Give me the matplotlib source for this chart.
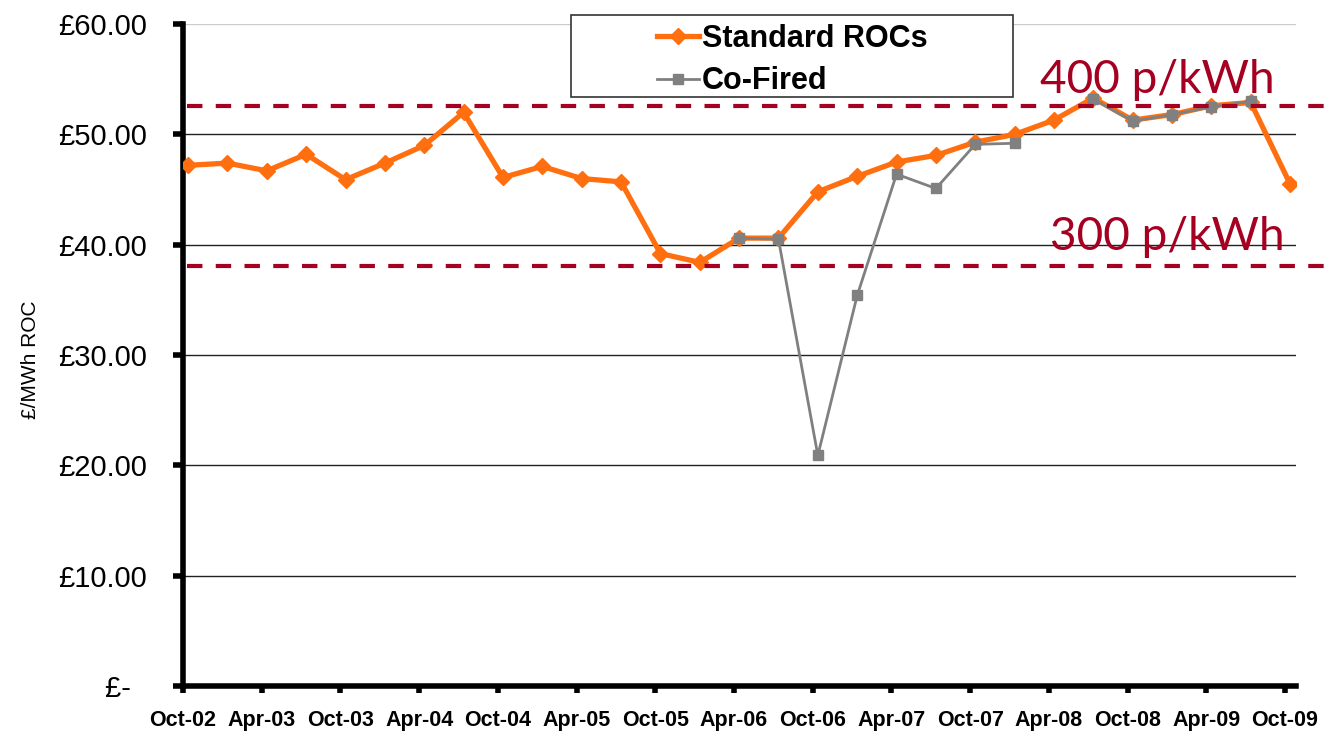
import matplotlib.pyplot as plt
from matplotlib.patches import Rectangle
import numpy as np

# kwartalen Oct-02 .. Oct-09
tick_labels = ['Oct-02', 'Apr-03', 'Oct-03', 'Apr-04', 'Oct-04', 'Apr-05', 'Oct-05', 'Apr-06',
               'Oct-06', 'Apr-07', 'Oct-07', 'Apr-08', 'Oct-08', 'Apr-09', 'Oct-09']

standard = [47.2, 47.4, 46.7, 48.2, 45.9, 47.4, 49.0, 52.0, 46.1, 47.1, 46.0, 45.7, 39.2, 38.4,
            40.6, 40.6, 44.8, 46.2, 47.5, 48.1, 49.3, 50.0, 51.3, 53.3, 51.3, 51.8, 52.6, 52.9, 45.5]

cofired = [np.nan] * 14 + [40.6, 40.5, 20.9, 35.4, 46.4, 45.1, 49.1, 49.2, np.nan,
                           53.2, 51.2, 51.8, 52.5, 53.0, np.nan]

ref_levels = [52.6, 38.1]
ref_labels = ['400 p/kWh', '300 p/kWh']

y_ticks = [0, 10, 20, 30, 40, 50, 60]
y_labels = ['£-  ', '£10.00', '£20.00', '£30.00', '£40.00', '£50.00', '£60.00']

plt.rcParams['font.family'] = ['Liberation Sans', 'DejaVu Sans']

x = np.arange(len(standard)) + 0.13

fig = plt.figure(figsize=(13.26, 7.31), dpi=100)
ax = fig.add_axes([0.138, 0.0616, 0.8394, 0.9054])

ax.plot(x, standard, color='#FF6F0F', lw=3.8, marker='D', ms=8, label='Standard ROCs', zorder=3)
ax.plot(x, cofired, color='#808080', lw=2, marker='s', ms=7.5, label='Co-Fired', zorder=4)

for lvl in ref_levels:
    ax.axhline(lvl, xmin=0.004, xmax=1.03, color='#A50021', lw=3, dashes=(3.7, 3.2),
               clip_on=False, zorder=5)

ax.text(21.77, 53.8, ref_labels[0], color='#A50021', fontsize=33, family='Lato', va='baseline')
ax.text(22.03, 39.55, ref_labels[1], color='#A50021', fontsize=33, family='Lato', va='baseline')

ax.set_xlim(0, 28.28)
ax.set_ylim(0, 60)
ax.set_xticks(np.arange(0, 29, 2))
ax.set_xticklabels(tick_labels, fontsize=15.5, fontweight='bold')
ax.set_yticks(y_ticks)
ax.set_yticklabels(y_labels, fontsize=21)

for v in y_ticks[1:-1]:
    ax.axhline(v, color='#222222', lw=1, zorder=1)
ax.axhline(60, color='#cccccc', lw=1, zorder=1)

for s in ['top', 'right']:
    ax.spines[s].set_visible(False)
ax.spines['left'].set_linewidth(4)
ax.spines['bottom'].set_linewidth(4)
ax.tick_params(axis='y', direction='out', length=7, width=4, pad=19)
ax.tick_params(axis='x', direction='out', length=5, width=4, pad=12)

fig.text(30 / 1326, 1 - 360 / 731, '£/MWh ROC', rotation=90, fontsize=15, ha='center', va='center')

# legenda met eigen kader
ax.add_patch(Rectangle((0.349, 0.8897), 0.397, 0.124, transform=ax.transAxes, fill=True,
                       facecolor='white', edgecolor='#333333', lw=1.2, clip_on=False, zorder=6))
leg = ax.legend(loc='center', bbox_to_anchor=(0.5475, 0.9455), frameon=False,
                prop={'weight': 'bold', 'size': 22}, handlelength=1.35, handletextpad=0.1,
                labelspacing=0.4, borderpad=0.2)
leg.set_zorder(7)

fig.savefig('out.png', dpi=100)
